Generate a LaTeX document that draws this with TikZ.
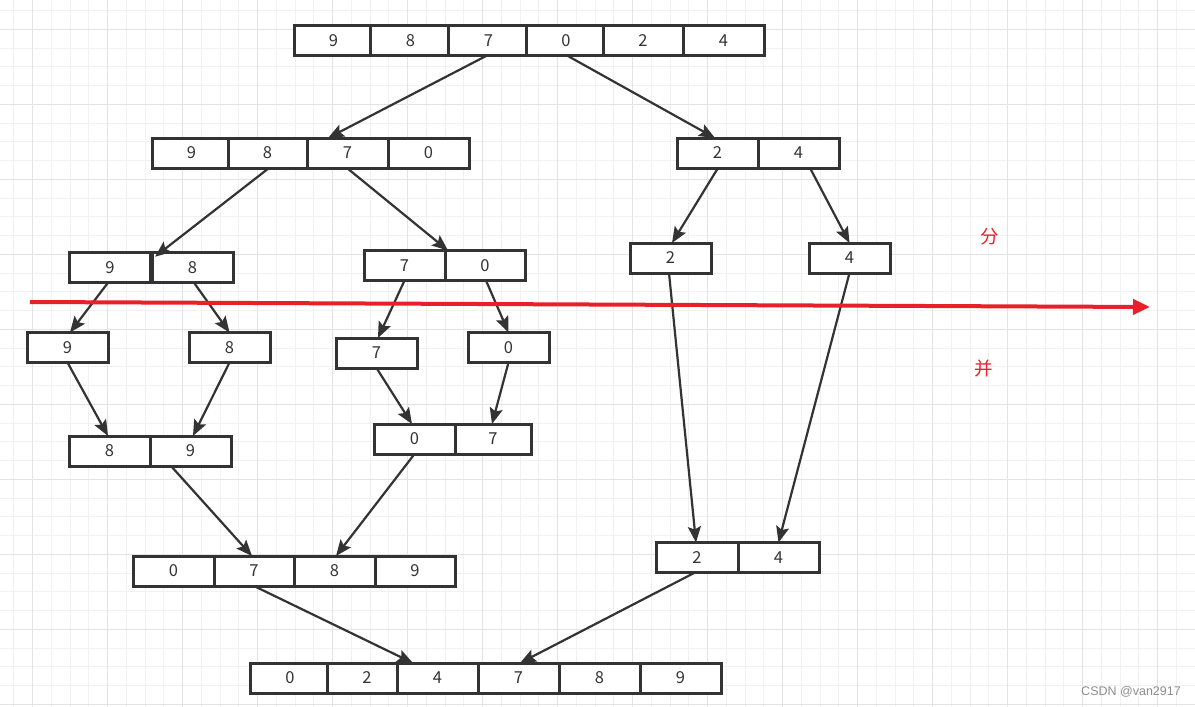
\documentclass[tikz,border=0pt]{standalone}
\usepackage{fontspec}
\setmainfont{Noto Sans CJK SC}
\newfontfamily\wmfont{Liberation Sans}
\usetikzlibrary{arrows.meta}
\definecolor{ink}{HTML}{333333}
\definecolor{redline}{HTML}{E8202A}
\definecolor{gridminor}{HTML}{F1F1F1}
\definecolor{gridmajor}{HTML}{E3E3E3}
\tikzset{
  cellbox/.style={draw=ink, line width=3pt, fill=white, inner sep=0pt, outer sep=0pt,
    text=ink, font=\fontsize{16.5}{18}\selectfont},
  conn/.style={draw=ink, line width=2.2pt, -{Stealth[length=16pt,width=13pt,inset=3pt]}},
  redarrow/.style={draw=redline, line width=4pt, -{Triangle[length=17pt,width=15pt]}},
  redlabel/.style={text=redline, font=\fontsize{18.5}{20}\selectfont, inner sep=0pt},
}
\newcommand{\cell}[6]{\node[cellbox, minimum width=#4pt, minimum height=#5pt] (#1) at (#2,#3) {#6};}
\begin{document}
\begin{tikzpicture}[x=1pt,y=-1pt]
\useasboundingbox (0,0) rectangle (1195,707);
\fill[white] (0,0) rectangle (1195,707);
% grid
\foreach \i in {0,...,64} {
  \draw[gridminor, line width=1pt] ({13.95+18.75*\i},0) -- ({13.95+18.75*\i},707);
}
\foreach \i in {0,...,38} {
  \draw[gridminor, line width=1pt] (0,{10.55+18.75*\i}) -- (1195,{10.55+18.75*\i});
}
\foreach \i in {0,...,15} {
  \draw[gridmajor, line width=1pt] ({32.7+75*\i},0) -- ({32.7+75*\i},707);
}
\foreach \i in {0,...,9} {
  \draw[gridmajor, line width=1pt] (0,{29.3+75*\i}) -- (1195,{29.3+75*\i});
}
% row 1
\cell{a1}{332}{40.5}{76}{30}{\hspace{3pt}9}
\cell{a2}{409}{40.5}{78}{30}{\hspace{3pt}8}
\cell{a3}{487}{40.5}{78}{30}{\hspace{3pt}7}
\cell{a4}{564.5}{40.5}{77}{30}{\hspace{3pt}0}
\cell{a5}{643}{40.5}{80}{30}{2}
\cell{a6}{723.5}{40.5}{81}{30}{4}
% row 2
\cell{b1}{190}{153}{76}{30}{\hspace{3pt}9}
\cell{b2}{267.5}{153}{79}{30}{8}
\cell{b3}{347.5}{153}{81}{30}{7}
\cell{b4}{428.5}{153}{81}{30}{0}
\cell{b5}{717.5}{153}{81}{30}{2}
\cell{b6}{798.5}{153}{81}{30}{4}
% row 3
\cell{c1}{110}{267.7}{81}{30}{9}
\cell{c2}{192.5}{267.7}{81}{30}{8}
\cell{c3}{404.5}{265.5}{81}{30}{7}
\cell{c4}{485}{265.5}{80}{30}{0}
\cell{c5}{670.5}{258}{81}{30}{2}
\cell{c6}{849.5}{258}{81}{30}{4}
% row 4
\cell{d1}{67.5}{347.5}{81}{30}{9}
\cell{d2}{229.5}{347.5}{81}{30}{8}
\cell{d3}{376.5}{353}{81}{30}{7}
\cell{d4}{508.5}{347.5}{81}{30}{0}
% row 5
\cell{e1}{109.5}{451}{81}{30}{8}
\cell{e2}{190.5}{451}{81}{30}{9}
\cell{e3}{414.5}{439}{81}{30}{0}
\cell{e4}{493}{439}{76}{30}{7}
% row 6
\cell{f1}{173.5}{571}{81}{30}{0}
\cell{f2}{254}{571}{80}{30}{7}
\cell{f3}{334.5}{571}{81}{30}{8}
\cell{f4}{415}{571}{80}{30}{9}
\cell{f5}{697}{557.5}{82}{30}{2}
\cell{f6}{778.5}{557.5}{81}{30}{4}
% row 7
\cell{g1}{288.5}{678}{77}{30}{\hspace{3pt}0}
\cell{g2}{362}{678}{70}{30}{\hspace{10pt}2}
\cell{g3}{437.5}{678}{81}{30}{4}
\cell{g4}{518.5}{678}{81}{30}{7}
\cell{g5}{599.5}{678}{81}{30}{8}
\cell{g6}{680.5}{678}{81}{30}{9}
% connectors
\draw[conn] (a3.south) -- ([xshift=-19.5pt]b3.north);
\draw[conn] ([xshift=2.5pt]a4.south) -- ([xshift=-2.5pt]b5.north);
\draw[conn] ([xshift=1.5pt]b2.south) -- ([xshift=3pt,yshift=-4pt]c2.north west);
\draw[conn] ([xshift=-0.5pt]b3.south) -- ([xshift=3pt]c4.north west);
\draw[conn] ([xshift=0.5pt]b5.south) -- ([xshift=1.5pt]c5.north);
\draw[conn] ([xshift=11.5pt]b6.south) -- (c6.north);
\draw[conn] ([xshift=-2pt]c1.south) -- ([xshift=2.5pt]d1.north);
\draw[conn] ([xshift=1.5pt]c2.south) -- (d2.north);
\draw[conn] (c3.south) -- ([xshift=1.5pt]d3.north);
\draw[conn] ([xshift=1pt]c4.south) -- (d4.north);
\draw[conn] (d1.south) -- ([xshift=-1.5pt]e1.north);
\draw[conn] (d2.south) -- ([xshift=2.5pt]e2.north);
\draw[conn] (d3.south) -- ([xshift=-2.5pt]e3.north);
\draw[conn] (d4.south) -- ([xshift=-1pt]e4.north);
\draw[conn] ([xshift=-19.5pt]e2.south) -- ([xshift=-2pt]f2.north);
\draw[conn] (e3.south) -- ([xshift=1.5pt]f3.north);
\draw[conn] ([xshift=-1.5pt]c5.south) -- ([xshift=-1pt]f5.north);
\draw[conn] (c6.south) -- (f6.north);
\draw[conn] (f2.south) -- ([xshift=-24.5pt]g3.north);
\draw[conn] ([xshift=-2pt]f5.south) -- ([xshift=1.5pt]g4.north);
% red arrow
\coordinate (r1) at (30,302);
\coordinate (r2) at (1150,307);
\draw[redarrow] (r1) -- (r2);
\node[redlabel] (fen) at (990,237) {分};
\node[redlabel] (bing) at (984,369) {并};
\node[text=black!45, font=\wmfont\fontsize{12.5}{14}\selectfont, inner sep=0pt] (wm) at (1131,692) {CSDN @van2917};
\end{tikzpicture}
\end{document}
